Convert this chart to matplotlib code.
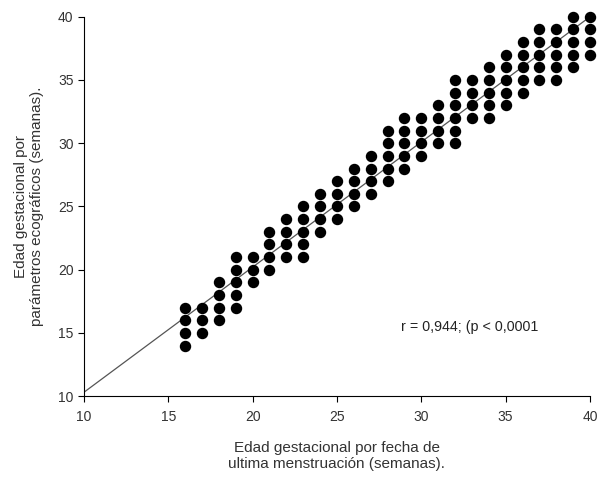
import matplotlib
matplotlib.use('Agg')
import matplotlib.pyplot as plt

plt.rcParams['font.family'] = ['Liberation Sans', 'DejaVu Sans']

# edad por FUM (x) -> rango de edad ecografica (y)
fum_weeks = [16, 17, 18, 19, 20, 21, 22, 23, 24, 25, 26, 27, 28,
             29, 30, 31, 32, 33, 34, 35, 36, 37, 38, 39, 40]
eco_min = [14, 15, 16, 17, 19, 20, 21, 21, 23, 24, 25, 26, 27,
           28, 29, 30, 30, 32, 32, 33, 34, 35, 35, 36, 37]
eco_max = [17, 17, 19, 21, 21, 23, 24, 25, 26, 27, 28, 29, 31,
           32, 32, 33, 35, 35, 36, 37, 38, 39, 39, 40, 40]

line_x = [10, 40]
line_y = [10.3, 40]

ticks = [10, 15, 20, 25, 30, 35, 40]

xs = []
ys = []
for x, lo, hi in zip(fum_weeks, eco_min, eco_max):
    for y in range(lo, hi + 1):
        xs.append(x)
        ys.append(y)

fig = plt.figure(figsize=(5.99, 4.79), dpi=100)
ax = fig.add_axes([0.140, 0.173, 0.845, 0.792])

ax.plot(line_x, line_y, color='#555555', linewidth=0.9)
ax.scatter(xs, ys, s=52, color='black', zorder=3, clip_on=False)

ax.set_xlim(10, 40)
ax.set_ylim(10, 40)
ax.set_xticks(ticks)
ax.set_yticks(ticks)
ax.spines['top'].set_visible(False)
ax.spines['right'].set_visible(False)
ax.tick_params(direction='out', length=4, labelsize=10, labelcolor='#333333')
ax.tick_params(axis='x', pad=6)

ax.set_xlabel('Edad gestacional por fecha de\nultima menstruación (semanas).',
              fontsize=11, color='#333333', labelpad=12)
ax.set_ylabel('Edad gestacional por\nparámetros ecográficos (semanas).',
              fontsize=11, color='#333333', labelpad=10)

ax.text(28.8, 15.5, 'r = 0,944; (p < 0,0001', fontsize=10.3, color='#222222',
        va='center')

fig.savefig('out.png', dpi=100)
